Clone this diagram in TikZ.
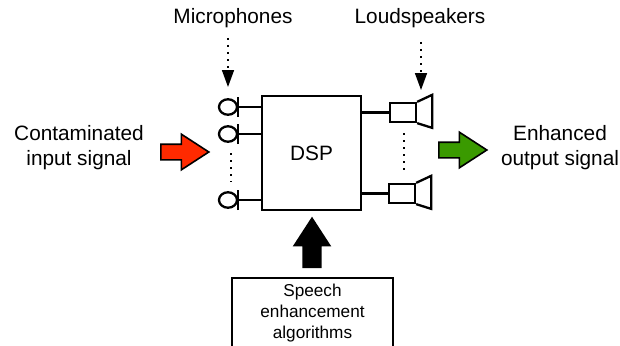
\documentclass[tikz,border=0pt]{standalone}
\usepackage{fontspec}
\setmainfont{Liberation Sans}
\usetikzlibrary{arrows.meta,shapes.geometric,shapes.arrows}
\definecolor{input_red}{HTML}{FF2A00}
\definecolor{output_green}{HTML}{3A9A00}
\tikzset{every picture/.style={x=1pt,y=-1pt,line width=2.3pt}}
\tikzstyle{label_text} =
  [ font=\fontsize{20.8}{25}\selectfont
  , align=center
  ]
\tikzstyle{block_arrow} =
  [ single arrow
  , draw
  , line width=1.6pt
  , inner sep=7pt
  , single arrow head extend=10pt
  , single arrow tip angle=66
  , minimum height=48pt
  , anchor=tail
  ]
\tikzstyle{mic_head} =
  [ ellipse
  , draw
  , inner sep=0pt
  , minimum width=18pt
  , minimum height=15.5pt
  ]
\tikzstyle{speaker_box} =
  [ rectangle
  , draw
  , inner sep=0pt
  , minimum width=26pt
  , minimum height=19pt
  ]
\tikzstyle{pointer} =
  [ line width=1.6pt
  , dash pattern=on 2pt off 5pt
  , -{Triangle[length=17pt,width=12pt]}
  ]
\tikzstyle{dots} =
  [ line width=1.6pt
  , dash pattern=on 2pt off 5pt
  ]

\begin{document}
\begin{tikzpicture}
    \useasboundingbox (0,0) rectangle (620,345);

    \node[rectangle,draw,minimum width=99pt,minimum height=114pt,font=\fontsize{20.8}{25}\selectfont] (dsp) at (311.5, 153) {DSP};

    \node[label_text] (contaminated) at (79, 147.5) {Contaminated\\input signal};
    \node[label_text] (enhanced)     at (560, 148)  {Enhanced\\output signal};
    \node[label_text] (microphones)  at (233, 18)   {Microphones};
    \node[label_text] (loudspeakers) at (420, 18)   {Loudspeakers};

    \node[block_arrow,fill=input_red]    (input_arrow)  at (160, 152) {};
    \node[block_arrow,fill=output_green] (output_arrow) at (438, 150) {};

    % microphones
    \node[mic_head] (mic_a) at (228, 107) {};
    \node[mic_head] (mic_b) at (228, 134) {};
    \node[mic_head] (mic_c) at (228, 200) {};
    \coordinate (mic_a_bar) at (238, 107);
    \coordinate (mic_b_bar) at (238, 134);
    \coordinate (mic_c_bar) at (238, 200);
    \draw ([yshift=-10pt]mic_a_bar) -- ([yshift=10pt]mic_a_bar);
    \draw ([yshift=-10pt]mic_b_bar) -- ([yshift=10pt]mic_b_bar);
    \draw ([yshift=-10pt]mic_c_bar) -- ([yshift=10pt]mic_c_bar);
    \draw (mic_a_bar) -- (mic_a_bar -| dsp.west);
    \draw (mic_b_bar) -- (mic_b_bar -| dsp.west);
    \draw (mic_c_bar) -- (mic_c_bar -| dsp.west);
    \coordinate (mic_dots_top) at (231, 153);
    \coordinate (mic_dots_end) at (231, 182);
    \draw[dots] (mic_dots_top) -- (mic_dots_end);

    % loudspeakers
    \node[speaker_box] (speaker_a) at (403, 112.5) {};
    \node[speaker_box] (speaker_b) at (402, 193.5) {};
    \draw (speaker_a.north east) -- ++(15,-7) -- ++(0,33) -- (speaker_a.south east);
    \draw (speaker_b.north east) -- ++(15,-7) -- ++(0,33) -- (speaker_b.south east);
    \draw (speaker_a.west) -- (speaker_a.west -| dsp.east);
    \draw (speaker_b.west) -- (speaker_b.west -| dsp.east);
    \coordinate (speaker_dots_top) at (404, 133);
    \coordinate (speaker_dots_end) at (404, 171);
    \draw[dots] (speaker_dots_top) -- (speaker_dots_end);

    % pointers from the labels
    \coordinate (mic_pointer_top) at (228, 38);
    \coordinate (mic_pointer_end) at (228, 87);
    \coordinate (speaker_pointer_top) at (421, 42);
    \coordinate (speaker_pointer_end) at (421, 90);
    \draw[pointer] (mic_pointer_top) -- (mic_pointer_end);
    \draw[pointer] (speaker_pointer_top) -- (speaker_pointer_end);

    \node[rectangle,draw,line width=1.4pt,minimum width=161pt,minimum height=70pt,text width=150pt,align=center,inner sep=0pt,font=\fontsize{17.2}{21}\selectfont] (algorithms) at (312.5, 313) {Speech\\enhancement\\algorithms};
    \node[block_arrow,fill=black,inner sep=8pt,single arrow head extend=9pt,minimum height=49pt,shape border rotate=90] (algorithm_arrow) at (312, 268) {};
  \end{tikzpicture}
\end{document}
